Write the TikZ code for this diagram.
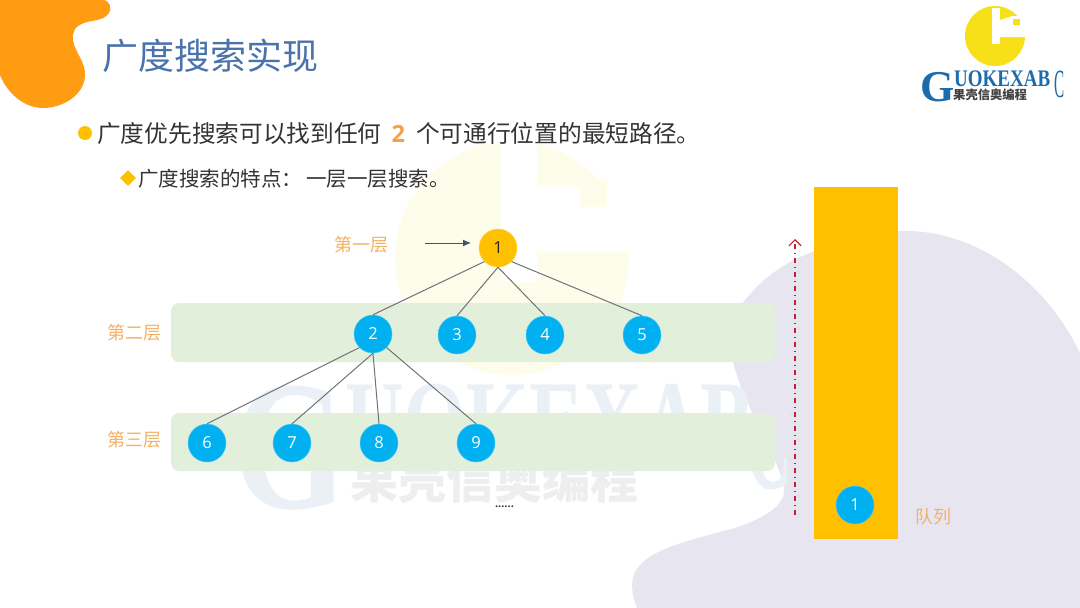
\documentclass[tikz,border=0pt]{standalone}
\usepackage{fontspec}
\setmainfont{Open Sans}
\newfontfamily\cjk{Noto Sans CJK SC}
\newfontfamily\logofont{Liberation Serif}
\usepackage{tikz}
\usetikzlibrary{
  arrows.meta,
  shapes.geometric
}
\definecolor{blobOrange}{HTML}{FF9C12}
\definecolor{blobLav}{HTML}{E7E6F0}
\definecolor{titleBlue}{HTML}{4A72AC}
\definecolor{gold}{HTML}{FFC000}
\definecolor{skyBlue}{HTML}{00B0F0}
\definecolor{bandGreen}{HTML}{E2EFDA}
\definecolor{labelOrange}{HTML}{F4B066}
\definecolor{edgeGray}{HTML}{6E7279}
\definecolor{pointerBlue}{HTML}{44546A}
\definecolor{flowRed}{HTML}{C4202F}
\definecolor{markBlue}{HTML}{EBF0F6}
\definecolor{markGray}{HTML}{EEEEEE}
\definecolor{markYellow}{HTML}{FEFDEB}
\definecolor{logoYellow}{HTML}{F7E017}
\definecolor{logoBlue}{HTML}{1C6CAB}

\begin{document}
\begin{tikzpicture}[>=Latex, x=1pt, y=-1pt]
  \tikzset{
    treenode/.style={
      circle, fill=skyBlue, draw=skyBlue!70!white, line width=.5pt,
      minimum size=38pt, inner sep=0pt, text=white, font=\fontsize{16.5}{16.5}\selectfont
    },
    rootnode/.style={treenode, fill=gold, draw=gold!70!white, text=black!85},
    layerlabel/.style={text=labelOrange, inner sep=0pt, font=\fontsize{18}{18}\selectfont\cjk},
    band/.style={fill=bandGreen, rounded corners=8pt},
    edge/.style={edgeGray, line width=1pt},
    plain/.style={inner sep=0pt, anchor=west},
  }

  \useasboundingbox (0,0) rectangle (1080,608);

  % background shapes
  \fill[blobLav] (637,608) .. controls (630,590) and (630,575) .. (640,565)
    .. controls (655,548) and (690,540) .. (735,528)
    .. controls (765,518) and (785,505) .. (784,490)
    .. controls (783,465) and (745,410) .. (733,362)
    .. controls (730,340) and (733,315) .. (745,300)
    .. controls (765,275) and (790,260) .. (812,252)
    .. controls (840,240) and (875,231) .. (905,231)
    .. controls (985,231) and (1050,290) .. (1080,353)
    -- (1080,608) -- cycle;
  \fill[blobOrange] (0,0) -- (103,0) .. controls (110,0) and (112,9) .. (109,13)
    .. controls (104,21) and (92,20) .. (84,23)
    .. controls (75,26) and (72,32) .. (73,40)
    .. controls (75,53) and (86,62) .. (85,76)
    .. controls (84,95) and (63,108) .. (43,108)
    .. controls (24,108) and (7,93) .. (0,75) -- cycle;

  % faded logo behind the tree
  \fill[markYellow] (512,258) circle (117);
  \fill[white] (501,140) rectangle (537,282);
  \fill[white] (537,187) rectangle (635,252);
  \fill[markYellow] (580,180) rectangle (607,207);
  \node[plain, text=markBlue, xscale=.8] (markG) at (232,448)
    {\fontsize{185}{185}\selectfont\logofont\bfseries G};
  \node[plain, text=markBlue, yscale=1.5] (markName) at (345,425)
    {\fontsize{81}{81}\selectfont\logofont\bfseries UOKEXAB};
  \begin{scope}
    \clip (700,413) rectangle (800,500);
    \node[plain, text=markBlue, xscale=.42] (markC) at (745,438)
      {\fontsize{155}{155}\selectfont\logofont\bfseries C};
  \end{scope}
  \node[plain, text=markGray] (markCn) at (350,480)
    {\fontsize{48}{48}\selectfont\cjk\bfseries 果壳信奥编程};

  % logo top right
  \fill[logoYellow] (995,36) circle (30);
  \fill[white] (992,8) rectangle (1000,44);
  \fill[white] (1000,20) -- (1012,16) -- (1030,16) -- (1030,37) -- (1000,37) -- cycle;
  \fill[logoYellow] (1012.5,18.5) rectangle (1019.5,24.5);
  \node[plain, text=logoBlue] (logoG) at (920,87)
    {\fontsize{44}{44}\selectfont\logofont\bfseries G};
  \node[plain, text=logoBlue, yscale=1.25] (logoName) at (954,79)
    {\fontsize{19}{19}\selectfont\logofont\bfseries UOKEXAB};
  \node[plain, text=logoBlue, xscale=.38] (logoC) at (1054,84)
    {\fontsize{40}{40}\selectfont\logofont C};
  \node[plain, text=black!75] (logoCn) at (953,95)
    {\fontsize{12.3}{13}\selectfont\cjk\bfseries 果壳信奥编程};

  % title and bullets
  \node[plain, text=titleBlue] (title) at (102,56)
    {\fontsize{36}{36}\selectfont\cjk 广度搜索实现};
  \fill[gold] (85,133) circle (7);
  \node[plain, text=black!80] (line1) at (97,134)
    {\fontsize{23.7}{24}\selectfont\cjk 广度优先搜索可以找到任何\hspace{10pt}{\color{labelOrange!70!orange}\rmfamily\bfseries 2}\hspace{11pt}个可通行位置的最短路径。};
  \node[diamond, fill=gold, minimum size=16pt, inner sep=0pt] (mark2) at (128,178) {};
  \node[plain, text=black!80] (line2) at (138,179)
    {\fontsize{20.5}{21}\selectfont\cjk 广度搜索的特点：\hspace{4pt}一层一层搜索。};

  % layers
  \fill[band] (171,303) rectangle (775,362);
  \fill[band] (171,413) rectangle (775,471);
  \node[layerlabel] (layer1) at (361,245) {第一层};
  \node[layerlabel] (layer2) at (134,333) {第二层};
  \node[layerlabel] (layer3) at (134,440) {第三层};

  % tree
  \node[rootnode] (n1) at (498,248) {1};
  \node[treenode] (n2) at (373,334) {2};
  \node[treenode] (n3) at (457,335) {3};
  \node[treenode] (n4) at (545,335) {4};
  \node[treenode] (n5) at (642,335) {5};
  \node[treenode] (n6) at (207,443) {6};
  \node[treenode] (n7) at (292,443) {7};
  \node[treenode] (n8) at (379,443) {8};
  \node[treenode] (n9) at (476,443) {9};

  \draw[edge] (n1.225) -- (n2.north);
  \draw[edge] (n1.south) -- (n3.north);
  \draw[edge] (n1.south) -- (n4.north);
  \draw[edge] (n1.-45) -- (n5.north);
  \draw[edge] (n2.225) -- (n6.north);
  \draw[edge] (n2.south) -- (n7.north);
  \draw[edge] (n2.south) -- (n8.north);
  \draw[edge] (n2.-45) -- (n9.north);

  \coordinate (pointerStart) at (425,243);
  \coordinate (pointerEnd) at (471,243);
  \draw[-{Latex[length=8pt,width=7pt]}, color=pointerBlue, line width=1pt] (pointerStart) -- (pointerEnd);

  \node[text=black!80, inner sep=0pt] (dots) at (504.5,507)
    {\fontsize{11}{11}\selectfont\bfseries ......};

  % queue
  \fill[gold] (813.5,187) rectangle (898,539);
  \node[treenode] (q1) at (855,505) {1};
  \node[layerlabel] (queueLabel) at (933,517) {队列};
  \coordinate (flowStart) at (795,515);
  \coordinate (flowEnd) at (795,239);
  \draw[-{Straight Barb[length=6pt,width=12pt]}, color=flowRed, line width=1.2pt,
    dash pattern=on 5pt off 4pt on 1pt off 4pt] (flowStart) -- (flowEnd);
\end{tikzpicture}
\end{document}
